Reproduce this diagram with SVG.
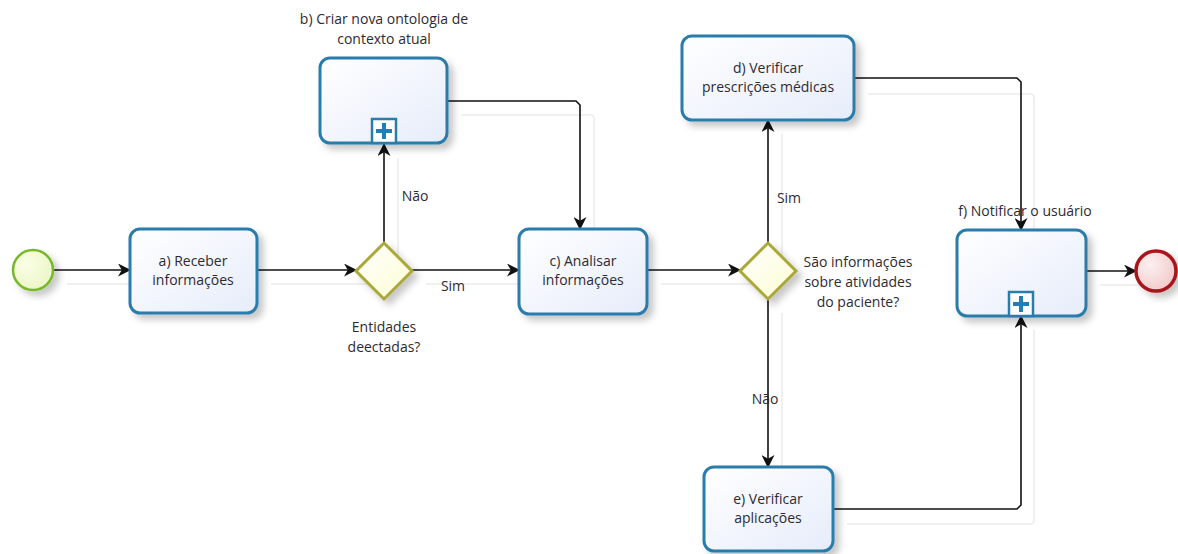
<svg xmlns="http://www.w3.org/2000/svg" width="1178" height="554" viewBox="0 0 1178 554">
  <defs>
    <linearGradient id="taskFill" x1="0" y1="0" x2="1" y2="1">
      <stop offset="0" stop-color="#ffffff"/>
      <stop offset="1" stop-color="#e6ecfa"/>
    </linearGradient>
    <radialGradient id="startFill" cx="0.35" cy="0.35" r="0.8">
      <stop offset="0" stop-color="#fbfee8"/>
      <stop offset="1" stop-color="#e9f5c0"/>
    </radialGradient>
    <radialGradient id="endFill" cx="0.35" cy="0.35" r="0.8">
      <stop offset="0" stop-color="#fdf0f0"/>
      <stop offset="1" stop-color="#f0c4c6"/>
    </radialGradient>
    <linearGradient id="gwFill" x1="0" y1="0" x2="1" y2="1">
      <stop offset="0" stop-color="#ffffff"/>
      <stop offset="1" stop-color="#fdfcd2"/>
    </linearGradient>
    <filter id="shadow" x="-20%" y="-20%" width="150%" height="150%">
      <feDropShadow dx="5" dy="5" stdDeviation="3.5" flood-color="#000" flood-opacity="0.22"/>
    </filter>
    <marker id="arrow" viewBox="0 0 13 13" refX="12" refY="6.5" markerWidth="13" markerHeight="13" markerUnits="userSpaceOnUse" orient="auto">
      <path d="M0,0 L13,6.5 L0,13 L3.8,6.5 z" fill="#111"/>
    </marker>
    <g id="subMarker">
      <rect x="-12" y="-24" width="24" height="24" fill="#ffffff" stroke="#2b7bab" stroke-width="2.5"/>
      <path d="M-2,-20 h4 v6 h6 v4 h-6 v6 h-4 v-6 h-6 v-4 h6 z" fill="#1f7fb8"/>
    </g>
  </defs>
  <style>
    .task { fill: url(#taskFill); stroke: #2b7bab; stroke-width: 3; filter: url(#shadow); }
    .gw { fill: url(#gwFill); stroke: #a9a838; stroke-width: 3; filter: url(#shadow); }
    .flow { fill: none; stroke: #111; stroke-width: 1.6; marker-end: url(#arrow); }
    .ghost { fill: none; stroke: #f0f0f0; stroke-width: 2; }
    text { font-family: "Open Sans", "Noto Sans", "DejaVu Sans", sans-serif; font-size: 14px; fill: #2e2a33; text-anchor: middle; }
  </style>

  <rect width="1178" height="554" fill="#ffffff"/>

  <!-- faint offset copies of the sequence flows -->
  <g id="flow-shadows">
    <path class="ghost" d="M67,284 H144"/>
    <path class="ghost" d="M271,284 H370"/>
    <path class="ghost" d="M398,257 V158"/>
    <path class="ghost" d="M426,284 H533"/>
    <path class="ghost" d="M461,115 H590 Q594,115 594,119 V243"/>
    <path class="ghost" d="M661,284 H754"/>
    <path class="ghost" d="M782,257 V134"/>
    <path class="ghost" d="M782,313 V481"/>
    <path class="ghost" d="M868,94 H1030 Q1034,94 1034,98 V244"/>
    <path class="ghost" d="M847,524 H1030 Q1034,524 1034,520 V330"/>
    <path class="ghost" d="M1100,285 H1150"/>
  </g>

  <!-- sequence flows -->
  <g id="connectors">
    <path class="flow" d="M53,270 H130"/>
    <path class="flow" d="M257,270 H356"/>
    <path class="flow" d="M384,243 V144"/>
    <path class="flow" d="M412,270 H519"/>
    <path class="flow" d="M447,101 H576 L580,105 V229"/>
    <path class="flow" d="M647,270 H740"/>
    <path class="flow" d="M768,243 V120"/>
    <path class="flow" d="M768,299 V467"/>
    <path class="flow" d="M854,78 H1017 L1021,82 V230"/>
    <path class="flow" d="M833,509 H1017 L1021,505 V316"/>
    <path class="flow" d="M1086,271 H1136"/>
  </g>

  <!-- flow labels -->
  <g id="labels">
    <text x="415" y="201">Não</text>
    <text x="453" y="291">Sim</text>
    <text x="789" y="203">Sim</text>
    <text x="765" y="404">Não</text>
  </g>

  <g id="start">
    <circle cx="33" cy="270" r="20" fill="url(#startFill)" stroke="#76b82a" stroke-width="2.5" filter="url(#shadow)"/>
  </g>

  <g id="task-a">
    <rect class="task" x="130" y="229" width="127" height="84" rx="10"/>
    <text x="193" y="266">a) Receber</text>
    <text x="193" y="285">informações</text>
  </g>

  <g id="gateway-1">
    <polygon class="gw" points="384,243 412,271 384,299 356,271"/>
    <text x="384" y="332">Entidades</text>
    <text x="384" y="352">deectadas?</text>
  </g>

  <g id="task-b">
    <text x="384" y="24">b) Criar nova ontologia de</text>
    <text x="384" y="44">contexto atual</text>
    <rect class="task" x="320" y="58" width="127" height="85" rx="10"/>
    <use href="#subMarker" x="384" y="143"/>
  </g>

  <g id="task-c">
    <rect class="task" x="519" y="229" width="128" height="85" rx="10"/>
    <text x="583" y="266">c) Analisar</text>
    <text x="583" y="285">informações</text>
  </g>

  <g id="gateway-2">
    <polygon class="gw" points="768,243 796,271 768,299 740,271"/>
    <text x="858" y="267">São informações</text>
    <text x="858" y="287">sobre atividades</text>
    <text x="858" y="307">do paciente?</text>
  </g>

  <g id="task-d">
    <rect class="task" x="682" y="36" width="172" height="84" rx="10"/>
    <text x="768" y="73">d) Verificar</text>
    <text x="768" y="92">prescrições médicas</text>
  </g>

  <g id="task-e">
    <rect class="task" x="704" y="467" width="129" height="84" rx="10"/>
    <text x="768" y="504">e) Verificar</text>
    <text x="768" y="523">aplicações</text>
  </g>

  <g id="task-f">
    <text x="1025" y="216">f) Notificar o usuário</text>
    <rect class="task" x="957" y="230" width="129" height="86" rx="10"/>
    <use href="#subMarker" x="1021" y="316"/>
  </g>

  <g id="end">
    <circle cx="1156" cy="271" r="20" fill="url(#endFill)" stroke="#a8161b" stroke-width="3.5" filter="url(#shadow)"/>
  </g>
</svg>
